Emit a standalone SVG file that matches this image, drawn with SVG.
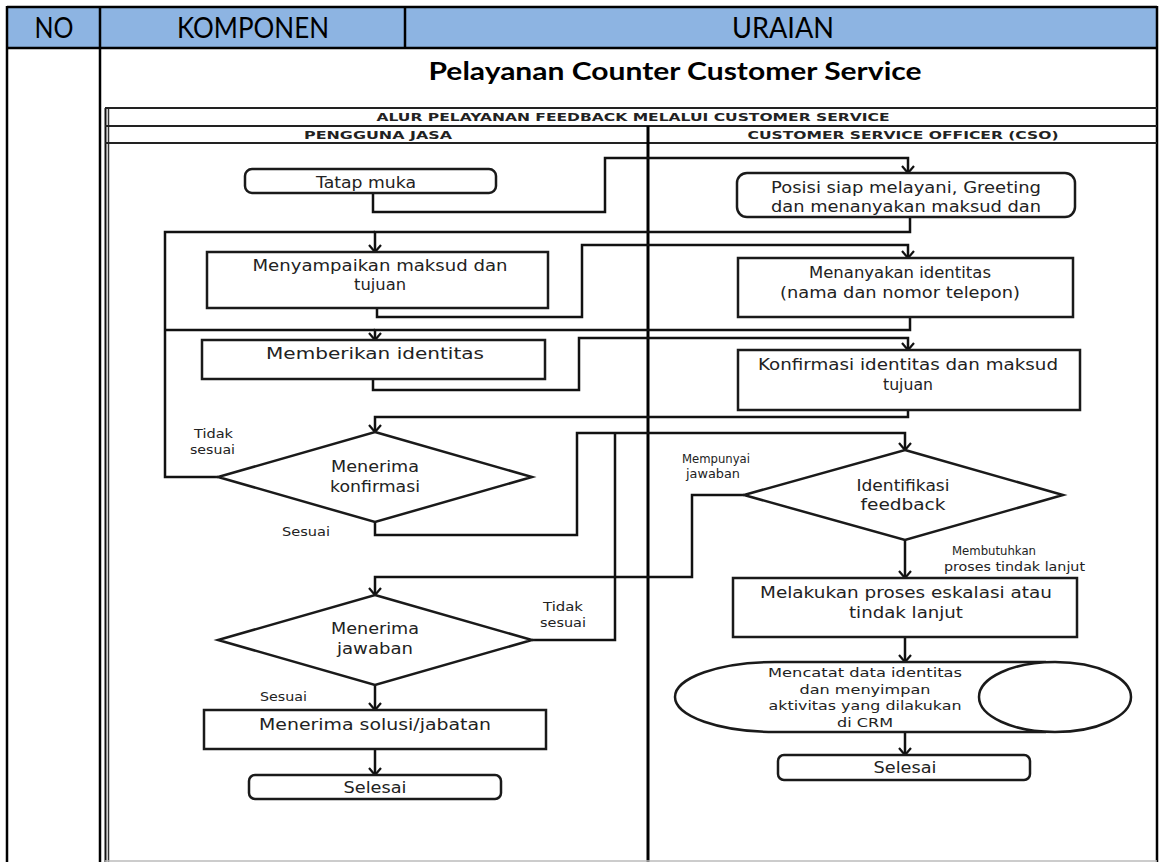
<svg xmlns="http://www.w3.org/2000/svg" width="1159" height="862" viewBox="0 0 1159 862">
  <style>
    .cell { fill: none; stroke: #000; stroke-width: 2.5; }
    .hd { font-family: "Lato", "Liberation Sans", sans-serif; font-size: 28px; fill: #000; text-anchor: middle; }
    .ttl { font-family: "Lato", "Liberation Sans", sans-serif; font-size: 25px; font-weight: bold; fill: #000; text-anchor: middle; }
    .lane { fill: none; stroke: #222; stroke-width: 2; }
    .lh { font-family: "DejaVu Sans", sans-serif; font-size: 11px; font-weight: bold; fill: #222; text-anchor: middle; }
    .box { fill: #fff; stroke: #1a1a1a; stroke-width: 2.5; }
    .conn { fill: none; stroke: #111; stroke-width: 2.5; }
    .arr { fill: none; stroke: #111; stroke-width: 2.5; marker-end: url(#chev); }
    .t { font-family: "DejaVu Sans", sans-serif; font-size: 15.5px; fill: #222; text-anchor: middle; }
    .s { font-family: "DejaVu Sans", sans-serif; font-size: 12.5px; fill: #222; text-anchor: middle; }
    .lbl { font-family: "DejaVu Sans", sans-serif; font-size: 12px; fill: #222; }
  </style>
  <defs>
    <marker id="chev" viewBox="0 0 10 14" refX="8" refY="7" markerWidth="10" markerHeight="14" markerUnits="userSpaceOnUse" orient="auto">
      <path d="M1,1 L8,7 L1,13" fill="none" stroke="#111" stroke-width="2.2"/>
    </marker>
  </defs>

  <!-- table frame -->
  <g id="table">
    <rect x="7" y="7" width="1150" height="41" fill="#8db4e2"/>
    <line class="cell" x1="7" y1="7" x2="1157" y2="7"/>
    <line class="cell" x1="7" y1="48" x2="1157" y2="48"/>
    <line class="cell" x1="7" y1="6" x2="7" y2="862"/>
    <line class="cell" x1="1157" y1="6" x2="1157" y2="862"/>
    <line class="cell" x1="100" y1="7" x2="100" y2="862"/>
    <line class="cell" x1="405" y1="7" x2="405" y2="48"/>
    <text class="hd" x="54" y="38" textLength="39" lengthAdjust="spacingAndGlyphs">NO</text>
    <text class="hd" x="253" y="38" textLength="152" lengthAdjust="spacingAndGlyphs">KOMPONEN</text>
    <text class="hd" x="783" y="38" textLength="102" lengthAdjust="spacingAndGlyphs">URAIAN</text>
    <text class="ttl" x="675" y="80" textLength="493" lengthAdjust="spacingAndGlyphs">Pelayanan Counter Customer Service</text>
  </g>

  <!-- swimlane frame -->
  <g id="lanes">
    <line x1="105.5" y1="108" x2="105.5" y2="862" stroke="#111" stroke-width="2"/>
    <line x1="108.5" y1="108" x2="108.5" y2="862" stroke="#333" stroke-width="1.5"/>
    <line class="lane" x1="105" y1="108" x2="1157" y2="108"/>
    <line class="lane" x1="105" y1="126" x2="1157" y2="126"/>
    <line class="lane" x1="105" y1="143" x2="1157" y2="143"/>
    <line x1="648" y1="126" x2="648" y2="862" stroke="#000" stroke-width="3"/>
    <line x1="105" y1="861" x2="1157" y2="861" stroke="#bbb" stroke-width="1.5"/>
    <text class="lh" x="633" y="121" textLength="513" lengthAdjust="spacingAndGlyphs">ALUR PELAYANAN FEEDBACK MELALUI CUSTOMER SERVICE</text>
    <text class="lh" x="378" y="139" textLength="148" lengthAdjust="spacingAndGlyphs">PENGGUNA JASA</text>
    <text class="lh" x="903" y="139" textLength="311" lengthAdjust="spacingAndGlyphs">CUSTOMER SERVICE OFFICER (CSO)</text>
  </g>

  <!-- connectors -->
  <g id="connectors">
    <polyline class="arr" points="373,193 373,212 605,212 605,158 908,158 908,173"/>
    <polyline class="arr" points="910,217 910,232 375,232 375,252"/>
    <polyline class="arr" points="377,308 377,317 582,317 582,245 908,245 908,258"/>
    <polyline class="arr" points="910,317 910,330 375,330 375,340"/>
    <polyline class="arr" points="373,379 373,390 579,390 579,338 908,338 908,350"/>
    <polyline class="arr" points="908,410 908,417 375,417 375,432"/>
    <polyline class="conn" points="218,477 165,477 165,232 375,232"/>
    <line class="conn" x1="165" y1="330" x2="375" y2="330"/>
    <polyline class="arr" points="375,522 375,535 577,535 577,433 905,433 905,450"/>
    <polyline class="conn" points="532,640 615,640 615,433"/>
    <polyline class="arr" points="744,495 692,495 692,577 375,577 375,595"/>
    <line class="arr" x1="905" y1="540" x2="905" y2="578"/>
    <line class="arr" x1="905" y1="637" x2="905" y2="662"/>
    <line class="arr" x1="905" y1="732" x2="905" y2="755"/>
    <line class="arr" x1="375" y1="685" x2="375" y2="710"/>
    <line class="arr" x1="375" y1="749" x2="375" y2="775"/>
  </g>

  <!-- customer lane -->
  <g id="tatap-muka">
    <rect class="box" x="245" y="169" width="251" height="24" rx="7"/>
    <text class="t" x="366" y="188" textLength="100" lengthAdjust="spacingAndGlyphs">Tatap muka</text>
  </g>
  <g id="menyampaikan">
    <rect class="box" x="207" y="252" width="341" height="56"/>
    <text class="t" x="380" y="271" textLength="255" lengthAdjust="spacingAndGlyphs">Menyampaikan maksud dan</text>
    <text class="t" x="380" y="290" textLength="52" lengthAdjust="spacingAndGlyphs">tujuan</text>
  </g>
  <g id="memberikan">
    <rect class="box" x="202" y="340" width="343" height="39"/>
    <text class="t" x="375" y="359" textLength="218" lengthAdjust="spacingAndGlyphs">Memberikan identitas</text>
  </g>
  <g id="menerima-konfirmasi">
    <polygon class="box" points="375,432 532,477 375,522 218,477"/>
    <text class="t" x="375" y="472" textLength="88" lengthAdjust="spacingAndGlyphs">Menerima</text>
    <text class="t" x="375" y="492" textLength="90" lengthAdjust="spacingAndGlyphs">konfirmasi</text>
    <text class="lbl" x="194" y="438" textLength="39" lengthAdjust="spacingAndGlyphs">Tidak</text>
    <text class="lbl" x="190" y="454" textLength="45" lengthAdjust="spacingAndGlyphs">sesuai</text>
    <text class="lbl" x="282" y="536" textLength="48" lengthAdjust="spacingAndGlyphs">Sesuai</text>
  </g>
  <g id="menerima-jawaban">
    <polygon class="box" points="375,595 532,640 375,685 218,640"/>
    <text class="t" x="375" y="634" textLength="88" lengthAdjust="spacingAndGlyphs">Menerima</text>
    <text class="t" x="375" y="654" textLength="76" lengthAdjust="spacingAndGlyphs">jawaban</text>
    <text class="lbl" x="543" y="611" textLength="40" lengthAdjust="spacingAndGlyphs">Tidak</text>
    <text class="lbl" x="540" y="627" textLength="46" lengthAdjust="spacingAndGlyphs">sesuai</text>
    <text class="lbl" x="260" y="701" textLength="47" lengthAdjust="spacingAndGlyphs">Sesuai</text>
  </g>
  <g id="menerima-solusi">
    <rect class="box" x="204" y="710" width="342" height="39"/>
    <text class="t" x="375" y="730" textLength="232" lengthAdjust="spacingAndGlyphs">Menerima solusi/jabatan</text>
  </g>
  <g id="selesai-kiri">
    <rect class="box" x="249" y="775" width="252" height="24" rx="6"/>
    <text class="t" x="375" y="793" textLength="63" lengthAdjust="spacingAndGlyphs">Selesai</text>
  </g>

  <!-- CSO lane -->
  <g id="posisi-siap">
    <rect class="box" x="737" y="173" width="338" height="44" rx="10"/>
    <text class="t" x="906" y="193" textLength="270" lengthAdjust="spacingAndGlyphs">Posisi siap melayani, Greeting</text>
    <text class="t" x="906" y="212" textLength="270" lengthAdjust="spacingAndGlyphs">dan menanyakan  maksud dan</text>
  </g>
  <g id="menanyakan">
    <rect class="box" x="738" y="258" width="335" height="59"/>
    <text class="t" x="900" y="278" textLength="182" lengthAdjust="spacingAndGlyphs">Menanyakan identitas</text>
    <text class="t" x="900" y="298" textLength="240" lengthAdjust="spacingAndGlyphs">(nama dan nomor telepon)</text>
  </g>
  <g id="konfirmasi">
    <rect class="box" x="738" y="350" width="342" height="60"/>
    <text class="t" x="908" y="370" textLength="300" lengthAdjust="spacingAndGlyphs">Konfirmasi identitas dan maksud</text>
    <text class="t" x="908" y="390" textLength="50" lengthAdjust="spacingAndGlyphs">tujuan</text>
  </g>
  <g id="identifikasi">
    <polygon class="box" points="905,450 1063,495 905,540 744,495"/>
    <text class="t" x="903" y="491" textLength="93" lengthAdjust="spacingAndGlyphs">Identifikasi</text>
    <text class="t" x="903" y="510" textLength="85" lengthAdjust="spacingAndGlyphs">feedback</text>
    <text class="lbl" x="682" y="463" textLength="68" lengthAdjust="spacingAndGlyphs">Mempunyai</text>
    <text class="lbl" x="686" y="478" textLength="54" lengthAdjust="spacingAndGlyphs">jawaban</text>
    <text class="lbl" x="952" y="555" textLength="84" lengthAdjust="spacingAndGlyphs">Membutuhkan</text>
    <text class="lbl" x="944" y="571" textLength="141" lengthAdjust="spacingAndGlyphs">proses tindak lanjut</text>
  </g>
  <g id="eskalasi">
    <rect class="box" x="733" y="578" width="344" height="59"/>
    <text class="t" x="906" y="598" textLength="292" lengthAdjust="spacingAndGlyphs">Melakukan proses eskalasi atau</text>
    <text class="t" x="906" y="618" textLength="114" lengthAdjust="spacingAndGlyphs">tindak lanjut</text>
  </g>
  <g id="crm">
    <path class="box" d="M1046,662 H775 A100,35 0 0 0 775,732 H1046"/>
    <ellipse class="box" cx="1055" cy="697" rx="76" ry="35"/>
    <text class="s" x="865" y="677" textLength="194" lengthAdjust="spacingAndGlyphs">Mencatat data identitas</text>
    <text class="s" x="865" y="694" textLength="131" lengthAdjust="spacingAndGlyphs">dan menyimpan</text>
    <text class="s" x="865" y="710" textLength="193" lengthAdjust="spacingAndGlyphs">aktivitas yang dilakukan</text>
    <text class="s" x="865" y="727" textLength="56" lengthAdjust="spacingAndGlyphs">di CRM</text>
  </g>
  <g id="selesai-kanan">
    <rect class="box" x="778" y="755" width="252" height="25" rx="6"/>
    <text class="t" x="905" y="773" textLength="63" lengthAdjust="spacingAndGlyphs">Selesai</text>
  </g>
</svg>
